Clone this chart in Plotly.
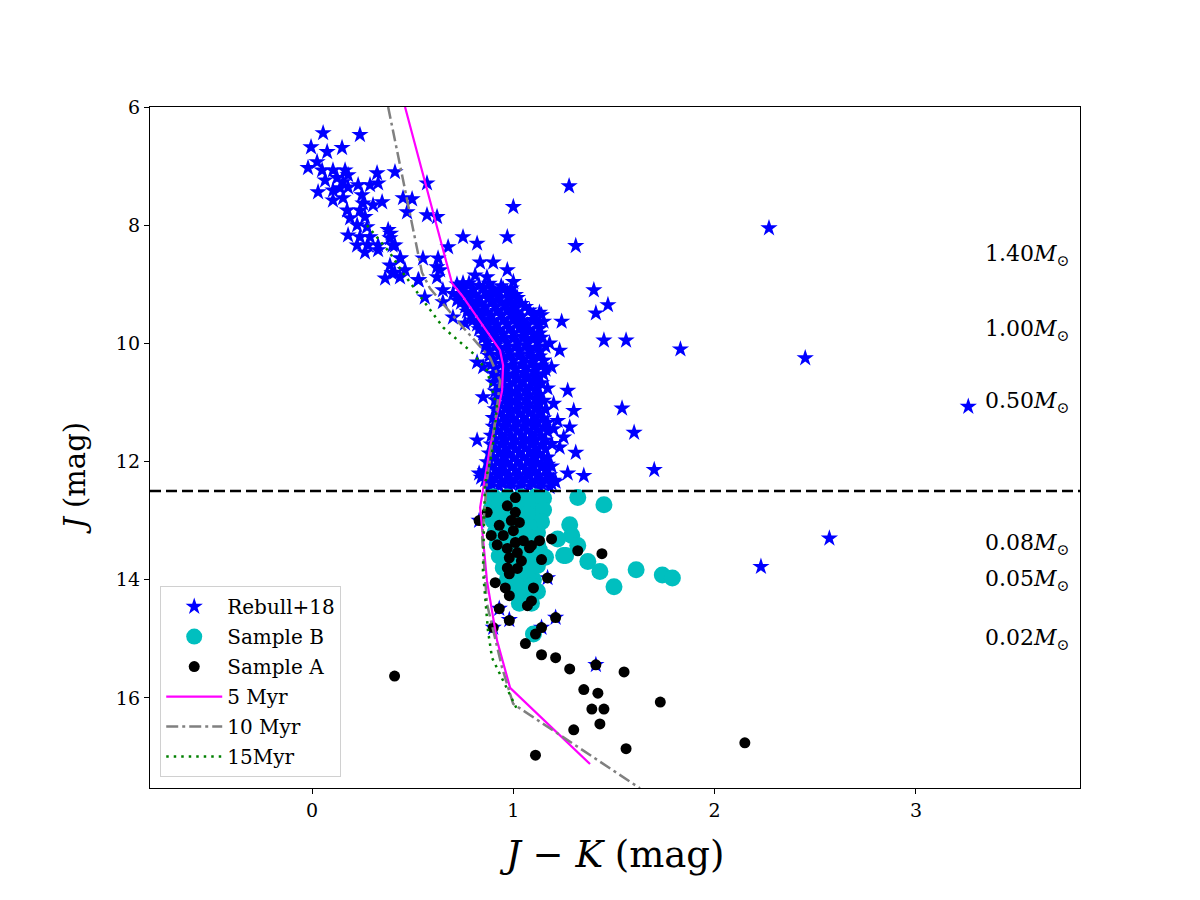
import plotly.graph_objects as go

# ---------------- data (J-K, J) ----------------
rebull_bright = [
    (0.055, 6.44), (0.238, 6.47), (-0.005, 6.68), (0.075, 6.76), (0.149, 6.69), (0.025, 6.93),
    (-0.02, 7.03), (0.05, 7.07), (0.104, 7.07), (0.164, 7.07), (0.179, 7.15), (0.065, 7.24),
    (0.124, 7.20), (0.154, 7.27), (0.03, 7.44), (0.104, 7.41), (0.139, 7.37), (0.179, 7.36),
    (0.229, 7.32), (0.288, 7.32), (0.323, 7.12), (0.328, 7.29), (0.412, 7.10), (0.104, 7.58),
    (0.154, 7.54), (0.248, 7.49), (0.253, 7.63), (0.303, 7.66), (0.348, 7.61), (0.174, 7.75),
    (0.238, 7.75), (0.263, 7.86), (0.189, 7.88), (0.224, 8.00), (0.273, 8.03), (0.179, 8.17),
    (0.238, 8.20), (0.288, 8.20), (0.378, 8.08), (0.387, 8.22), (0.224, 8.34), (0.278, 8.34),
    (0.328, 8.34), (0.412, 8.34), (0.263, 8.46), (0.328, 8.42), (0.387, 8.68), (0.437, 8.56),
    (0.397, 8.81), (0.462, 8.76), (0.363, 8.90), (0.437, 8.88), (0.527, 8.93), (0.452, 7.54),
    (0.497, 7.56), (0.472, 7.78), (0.571, 7.29), (0.571, 7.83), (0.621, 7.86), (0.551, 8.56),
    (0.626, 8.56), (0.636, 8.76), (0.621, 8.88), (0.676, 8.37), (0.750, 8.20), (0.820, 8.31),
    (0.835, 8.63), (0.869, 8.88), (0.90, 8.63), (0.97, 8.76), (1.00, 8.96), (0.93, 9.13),
    (0.97, 8.20), (0.62, 8.71), (0.53, 8.93), (0.56, 9.22), (0.65, 9.10), (0.65, 9.30),
    (0.72, 9.27), (0.70, 9.56), (0.76, 9.66), (0.39, 8.14), (0.40, 8.34), (0.44, 8.56),
    (0.41, 8.80), (0.81, 8.85), (0.75, 8.98), (1.00, 7.69),
]

rebull_core = [
    (0.72, 9.00), (0.78, 8.98), (0.83, 9.02), (0.88, 8.99), (0.94, 9.03),
    (0.70, 9.16), (0.76, 9.14), (0.81, 9.17), (0.86, 9.13), (0.91, 9.16), (0.97, 9.14), (1.01, 9.18),
    (0.74, 9.31), (0.79, 9.29), (0.84, 9.32), (0.89, 9.28), (0.94, 9.31), (0.99, 9.30), (1.04, 9.33),
    (0.77, 9.46), (0.82, 9.44), (0.87, 9.47), (0.92, 9.45), (0.97, 9.43), (1.02, 9.47), (1.08, 9.44), (1.13, 9.48),
    (0.80, 9.61), (0.85, 9.59), (0.90, 9.62), (0.95, 9.60), (1.00, 9.58), (1.05, 9.62), (1.10, 9.60), (1.15, 9.63),
    (0.83, 9.76), (0.88, 9.74), (0.93, 9.77), (0.98, 9.75), (1.03, 9.73), (1.08, 9.77), (1.13, 9.75),
    (0.85, 9.91), (0.90, 9.89), (0.95, 9.92), (1.00, 9.90), (1.05, 9.88), (1.10, 9.92), (1.14, 9.90),
    (0.86, 10.06), (0.91, 10.04), (0.96, 10.07), (1.01, 10.05), (1.06, 10.03), (1.11, 10.07), (1.16, 10.05),
    (0.88, 10.21), (0.93, 10.19), (0.98, 10.22), (1.03, 10.20), (1.08, 10.18), (1.13, 10.22),
    (0.89, 10.36), (0.94, 10.34), (0.99, 10.37), (1.04, 10.35), (1.09, 10.33), (1.14, 10.37), (1.19, 10.40),
    (0.90, 10.51), (0.95, 10.49), (1.00, 10.52), (1.05, 10.50), (1.10, 10.48), (1.15, 10.52),
    (0.90, 10.66), (0.95, 10.64), (1.00, 10.67), (1.05, 10.65), (1.10, 10.63), (1.14, 10.67),
    (0.91, 10.81), (0.96, 10.79), (1.01, 10.82), (1.06, 10.80), (1.11, 10.78),
    (0.91, 10.96), (0.96, 10.94), (1.01, 10.97), (1.06, 10.95), (1.11, 10.93), (1.15, 10.97),
    (0.91, 11.11), (0.96, 11.09), (1.01, 11.12), (1.06, 11.10), (1.11, 11.08), (1.16, 11.12),
    (0.90, 11.26), (0.95, 11.24), (1.00, 11.27), (1.05, 11.25), (1.10, 11.23), (1.15, 11.27),
    (0.90, 11.41), (0.95, 11.39), (1.00, 11.42), (1.05, 11.40), (1.10, 11.38), (1.15, 11.42), (1.20, 11.45),
    (0.89, 11.56), (0.94, 11.54), (0.99, 11.57), (1.04, 11.55), (1.09, 11.53), (1.14, 11.57),
    (0.89, 11.71), (0.94, 11.69), (0.99, 11.72), (1.04, 11.70), (1.09, 11.68), (1.14, 11.72), (1.19, 11.70),
    (0.88, 11.86), (0.93, 11.84), (0.98, 11.87), (1.03, 11.85), (1.08, 11.83), (1.13, 11.87),
    (0.87, 12.01), (0.92, 11.99), (0.97, 12.02), (1.02, 12.00), (1.07, 11.98), (1.12, 12.02), (1.17, 12.05),
    (0.86, 12.16), (0.91, 12.14), (0.96, 12.17), (1.01, 12.15), (1.06, 12.13), (1.11, 12.17), (1.16, 12.15),
    (0.86, 12.31), (0.91, 12.29), (0.96, 12.32), (1.01, 12.30), (1.06, 12.28), (1.11, 12.32), (1.16, 12.30), (1.21, 12.34),
    (0.88, 12.43), (0.93, 12.42), (0.98, 12.44), (1.03, 12.43), (1.08, 12.42), (1.13, 12.44), (1.18, 12.43),
    (0.82, 10.32), (0.85, 10.40), (0.85, 10.91), (0.82, 11.64), (0.83, 12.20), (0.84, 12.27),
]

rebull_core_fill = [
    (0.75, 9.08), (0.80, 9.08), (0.85, 9.07), (0.90, 9.09), (0.95, 9.08), (0.99, 9.07),
    (0.73, 9.23), (0.78, 9.22), (0.83, 9.24), (0.88, 9.23), (0.93, 9.22), (0.98, 9.24), (1.02, 9.23),
    (0.76, 9.38), (0.81, 9.37), (0.86, 9.39), (0.91, 9.38), (0.96, 9.37), (1.01, 9.39), (1.06, 9.38),
    (0.79, 9.53), (0.84, 9.52), (0.89, 9.54), (0.94, 9.53), (0.99, 9.52), (1.04, 9.54), (1.10, 9.53), (1.14, 9.52),
    (0.82, 9.68), (0.87, 9.67), (0.92, 9.69), (0.97, 9.68), (1.02, 9.67), (1.07, 9.69), (1.12, 9.68),
    (0.85, 9.83), (0.90, 9.82), (0.95, 9.84), (1.00, 9.83), (1.05, 9.82), (1.10, 9.84), (1.13, 9.83),
    (0.87, 9.98), (0.92, 9.97), (0.97, 9.99), (1.02, 9.98), (1.07, 9.97), (1.12, 9.99),
    (0.88, 10.13), (0.93, 10.12), (0.98, 10.14), (1.03, 10.13), (1.08, 10.12), (1.13, 10.14),
    (0.90, 10.28), (0.95, 10.27), (1.00, 10.29), (1.05, 10.28), (1.10, 10.27), (1.15, 10.29),
    (0.91, 10.43), (0.96, 10.42), (1.01, 10.44), (1.06, 10.43), (1.11, 10.42), (1.16, 10.44),
    (0.92, 10.58), (0.97, 10.57), (1.02, 10.59), (1.07, 10.58), (1.12, 10.57),
    (0.93, 10.73), (0.98, 10.72), (1.03, 10.74), (1.08, 10.73), (1.12, 10.72),
    (0.93, 10.88), (0.98, 10.87), (1.03, 10.89), (1.08, 10.88), (1.13, 10.87),
    (0.93, 11.03), (0.98, 11.02), (1.03, 11.04), (1.08, 11.03), (1.13, 11.02),
    (0.93, 11.18), (0.98, 11.17), (1.03, 11.19), (1.08, 11.18), (1.13, 11.17),
    (0.92, 11.33), (0.97, 11.32), (1.02, 11.34), (1.07, 11.33), (1.12, 11.32), (1.17, 11.34),
    (0.92, 11.48), (0.97, 11.47), (1.02, 11.49), (1.07, 11.48), (1.12, 11.47), (1.17, 11.49),
    (0.91, 11.63), (0.96, 11.62), (1.01, 11.64), (1.06, 11.63), (1.11, 11.62), (1.16, 11.64),
    (0.91, 11.78), (0.96, 11.77), (1.01, 11.79), (1.06, 11.78), (1.11, 11.77), (1.16, 11.79),
    (0.90, 11.93), (0.95, 11.92), (1.00, 11.94), (1.05, 11.93), (1.10, 11.92), (1.15, 11.94),
    (0.89, 12.08), (0.94, 12.07), (0.99, 12.09), (1.04, 12.08), (1.09, 12.07), (1.14, 12.09), (1.19, 12.08),
    (0.88, 12.23), (0.93, 12.22), (0.98, 12.24), (1.03, 12.23), (1.08, 12.22), (1.13, 12.24), (1.18, 12.23),
    (0.89, 12.37), (0.94, 12.36), (0.99, 12.38), (1.04, 12.37), (1.09, 12.36), (1.14, 12.38), (1.19, 12.37),
]

rebull_scatter = [
    (1.24, 9.63), (1.18, 10.00), (1.23, 10.12), (1.15, 10.29), (1.17, 10.76), (1.20, 11.02),
    (1.30, 11.14), (1.22, 11.31), (1.28, 11.42), (1.25, 11.59), (1.31, 11.85), (1.23, 11.76),
    (1.17, 11.93), (1.27, 12.20), (1.35, 12.24), (1.20, 12.32),
    (1.277, 7.34), (1.31, 8.35), (2.27, 8.05), (1.40, 9.10), (1.47, 9.35), (1.41, 9.49),
    (1.45, 9.95), (1.56, 9.95), (1.83, 10.10), (2.45, 10.25), (1.27, 10.80), (1.54, 11.10),
    (3.26, 11.07), (1.60, 11.51), (1.70, 12.14), (2.57, 13.30), (2.23, 13.78),
    (0.83, 13.00), (1.17, 13.97), (1.21, 14.64), (0.98, 14.68), (0.93, 14.49), (1.14, 14.81),
    (0.90, 14.81), (1.41, 15.44),
]

sample_b = [
    (0.90, 12.60), (0.97, 12.60), (1.04, 12.60), (1.11, 12.60), (1.15, 12.62),
    (0.89, 12.80), (0.96, 12.80), (1.03, 12.80), (1.10, 12.80), (1.15, 12.82),
    (0.90, 13.00), (0.97, 13.00), (1.04, 13.00), (1.11, 13.00), (1.14, 13.02),
    (0.91, 13.20), (0.98, 13.20), (1.05, 13.20), (1.12, 13.20),
    (0.92, 13.40), (0.99, 13.40), (1.06, 13.40), (1.12, 13.40),
    (0.93, 13.60), (1.00, 13.60), (1.07, 13.60), (1.13, 13.60), (1.16, 13.62),
    (0.95, 13.80), (1.02, 13.80), (1.09, 13.80),
    (0.97, 14.00), (1.04, 14.00), (1.10, 14.00),
    (1.00, 14.20), (1.07, 14.20), (1.12, 14.20),
    (1.03, 14.40), (1.09, 14.40), (1.10, 14.92),
    (0.93, 12.70), (1.00, 12.70), (1.07, 12.70), (0.93, 12.90), (1.00, 12.90), (1.07, 12.90),
    (0.94, 13.10), (1.01, 13.10), (1.08, 13.10), (0.95, 13.30), (1.02, 13.30), (1.09, 13.30),
    (0.96, 13.50), (1.03, 13.50), (0.98, 13.70), (1.05, 13.70), (1.00, 13.90), (1.07, 13.90),
    (1.02, 14.10), (1.09, 14.10), (1.05, 14.30),
    (1.32, 12.61), (1.45, 12.73), (1.28, 13.07), (1.29, 13.25), (1.32, 13.42), (1.26, 13.59),
    (1.37, 13.69), (1.43, 13.86), (1.50, 14.12), (1.61, 13.83), (1.74, 13.92), (1.79, 13.97),
    (1.22, 13.31), (1.13, 13.50), (1.12, 13.76), (1.25, 13.59),
]

sample_a = [
    (1.01, 12.61), (0.97, 12.75), (1.01, 12.86), (0.87, 12.86), (0.99, 13.00), (1.03, 13.03),
    (0.83, 13.00), (0.93, 13.08), (1.00, 13.17), (0.89, 13.25), (0.95, 13.25), (0.92, 13.41),
    (1.01, 13.37), (1.05, 13.34), (1.09, 13.42), (1.13, 13.34), (1.19, 13.31), (0.97, 13.47),
    (1.02, 13.54), (0.98, 13.63), (1.04, 13.68), (1.14, 13.66), (1.08, 13.46), (1.32, 13.51),
    (1.44, 13.56), (0.97, 13.80), (1.02, 13.81), (0.98, 13.90), (1.17, 13.97), (0.91, 14.05),
    (0.96, 14.14), (0.98, 14.27), (1.10, 14.14), (1.09, 14.36), (1.07, 14.44), (0.93, 14.49),
    (0.98, 14.69), (1.21, 14.64), (0.90, 14.81), (1.14, 14.81), (1.11, 14.92), (1.06, 15.08),
    (1.14, 15.27), (1.21, 15.32), (1.28, 15.51), (1.41, 15.44), (1.55, 15.56), (1.35, 15.86),
    (1.42, 15.92), (1.73, 16.07), (1.39, 16.19), (1.45, 16.19), (1.43, 16.44), (1.30, 16.54),
    (1.56, 16.86), (2.15, 16.76), (1.11, 16.97), (0.41, 15.63),
]

iso5_jk = [0.462, 0.695, 0.745, 0.934, 0.949, 0.944, 0.884, 0.845, 0.835, 0.869, 0.919, 0.984, 1.381]
iso5_j = [6.00, 8.98, 9.19, 10.12, 10.37, 10.80, 11.76, 12.54, 12.78, 14.02, 15.03, 15.83, 17.12]

iso10_jk = [0.378, 0.546, 0.586, 0.750, 0.884, 0.934, 0.919, 0.869, 0.845, 0.869, 0.944, 0.999, 1.629]
iso10_j = [6.00, 8.80, 9.07, 9.73, 10.24, 10.63, 11.08, 12.32, 13.29, 14.41, 15.49, 16.10, 17.53]

iso15_jk = [0.273, 0.387, 0.452, 0.651, 0.800, 0.869, 0.919, 0.894, 0.859, 0.849, 0.874, 0.894, 1.018]
iso15_j = [8.00, 8.47, 8.81, 9.73, 10.17, 10.46, 11.08, 11.86, 12.37, 13.85, 14.86, 15.32, 16.19]

cut_mag = 12.5

mass_labels = ["1.40", "1.00", "0.50", "0.08", "0.05", "0.02"]
mass_j = [8.51, 9.78, 11.00, 13.41, 14.02, 15.02]

x_ticks = [0, 1, 2, 3]
y_ticks = [6, 8, 10, 12, 14, 16]

FONT = "DejaVu Serif"


def unzip(pairs):
    return [p[0] for p in pairs], [p[1] for p in pairs]


rebull = rebull_bright + rebull_core + rebull_core_fill + rebull_scatter
rx, ry = unzip(rebull)
bx, by = unzip(sample_b)
ax_, ay_ = unzip(sample_a)

fig = go.Figure()
fig.add_trace(go.Scatter(x=rx, y=ry, mode="markers", name="Rebull+18", legendgroup="r",
                         marker=dict(symbol="star", size=13, color="#0000ff", line=dict(width=0))))
fig.add_trace(go.Scatter(x=bx, y=by, mode="markers", name="Sample B", legendgroup="b",
                         marker=dict(symbol="circle", size=17, color="#00bfbf", line=dict(width=0))))
fig.add_trace(go.Scatter(x=ax_, y=ay_, mode="markers", name="Sample A", legendgroup="a",
                         marker=dict(symbol="circle", size=11, color="#000000", line=dict(width=0))))
fig.add_trace(go.Scatter(x=iso5_jk, y=iso5_j, mode="lines", name="5 Myr", legendgroup="i5",
                         line=dict(color="#ff00ff", width=2.2)))
fig.add_trace(go.Scatter(x=iso10_jk, y=iso10_j, mode="lines", name="10 Myr", legendgroup="i10",
                         line=dict(color="#808080", width=2.5, dash="12px,4px,3px,4px")))
fig.add_trace(go.Scatter(x=iso15_jk, y=iso15_j, mode="lines", name="15Myr", legendgroup="i15",
                         line=dict(color="#008000", width=2.5, dash="2.5px,5px")))

fig.add_hline(y=cut_mag, line=dict(color="black", width=2.5, dash="11px,5px"))

for lab, yv in zip(mass_labels, mass_j):
    fig.add_annotation(x=0.99, xref="paper", y=yv, yref="y", xanchor="right", yanchor="middle",
                       text=f"{lab}<i>M</i><sub>⊙</sub>", showarrow=False,
                       font=dict(family=FONT, size=22, color="black"))

# axis titles
fig.add_annotation(x=0.497, y=-0.098, xref="paper", yref="paper", xanchor="center", yanchor="middle",
                   text="<i>J</i> − <i>K</i> (mag)", showarrow=False,
                   font=dict(family=FONT, size=37, color="black"))
fig.add_annotation(x=-0.081, y=0.455, xref="paper", yref="paper", xanchor="center", yanchor="middle",
                   text="<i>J</i> (mag)", showarrow=False, textangle=-90,
                   font=dict(family=FONT, size=29, color="black"))

axis_common = dict(showgrid=False, zeroline=False, showline=True, mirror=True, linecolor="black",
                   linewidth=1.3, ticks="outside", ticklen=5, tickwidth=1.3, tickcolor="black",
                   tickfont=dict(family=FONT, size=19, color="black"))

fig.update_xaxes(range=[-0.805, 3.815], tickvals=x_ticks, ticktext=[str(v) for v in x_ticks],
                 **axis_common)
fig.update_yaxes(range=[17.525, 6], tickvals=y_ticks, ticktext=[str(v) for v in y_ticks],
                 **axis_common)

fig.update_layout(
    width=1200, height=900,
    margin=dict(l=150, r=120, t=107, b=112, autoexpand=False),
    paper_bgcolor="white", plot_bgcolor="white",
    font=dict(family=FONT, color="black"),
    showlegend=True,
    legend=dict(x=0.011, y=0.016, xanchor="left", yanchor="bottom",
                bgcolor="rgba(255,255,255,0.9)", bordercolor="#d0d0d0", borderwidth=1,
                font=dict(family=FONT, size=20, color="black"), tracegroupgap=1,
                itemwidth=56),
)

fig.write_html("out.html")
